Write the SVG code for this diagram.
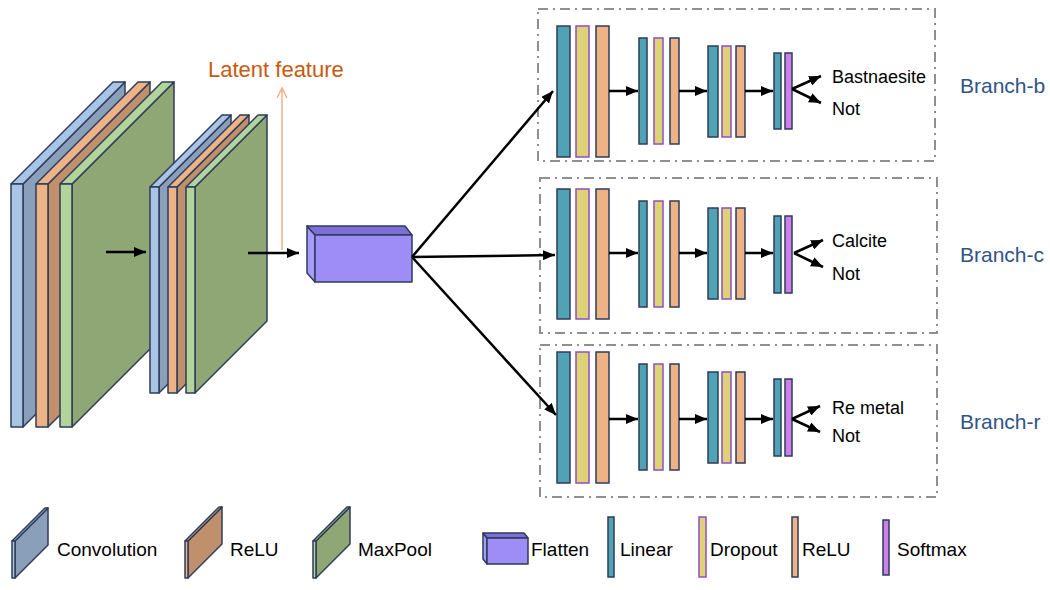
<svg xmlns="http://www.w3.org/2000/svg" width="1050" height="590" viewBox="0 0 1050 590">
<defs>
<marker id="ah" markerUnits="userSpaceOnUse" markerWidth="12" markerHeight="10" refX="12" refY="5" orient="auto" viewBox="0 0 12 10"><path d="M0,0 L12,5 L0,10 z" fill="#000"/></marker>
</defs>
<style>
.s{stroke:#2E3D5A;stroke-width:1.5;stroke-linejoin:round}
.cf{fill:#A9C4E4}.cs{fill:#8A9FBA}
.rf{fill:#EDB386}.rs{fill:#C08F6C}
.mf{fill:#B2D39A}.ms{fill:#8EA774}
.ff{fill:#9F8DF7}.ft{fill:#7E6FD8}.fs{fill:#A99BF9}
.lin{fill:#52A2B5;stroke:#2E3D5A;stroke-width:1.5}
.drp{fill:#DDD276;stroke:#8E4FC4;stroke-width:1.5}
.rel{fill:#EDB386;stroke:#2E3D5A;stroke-width:1.5}
.sfm{fill:#CD7FEA;stroke:#2E3D5A;stroke-width:1.5}
.box{fill:none;stroke:#8F8F8F;stroke-width:2;stroke-dasharray:10 5 2 5}
.ar{stroke:#000;stroke-width:2.5;fill:none;marker-end:url(#ah)}
.t{font-family:"Liberation Sans",Arial,sans-serif;font-size:18px;fill:#000}
.lg{font-family:"Liberation Sans",Arial,sans-serif;font-size:19px;fill:#000}
.bt{font-family:"Liberation Sans",Arial,sans-serif;font-size:21px;fill:#2F5486}
</style>

<g id="block1">
<polygon class="s cs" points="23,184 125,82 125,325 23,427"/>
<polygon class="s cf" points="11,184 113,82 125,82 23,184"/>
<rect class="s cf" x="11" y="184" width="12" height="243"/>
<polygon class="s rs" points="48,184 150,82 150,325 48,427"/>
<polygon class="s rf" points="36,184 138,82 150,82 48,184"/>
<rect class="s rf" x="36" y="184" width="12" height="243"/>
<polygon class="s ms" points="72,184 174,82 174,325 72,427"/>
<polygon class="s mf" points="60,184 162,82 174,82 72,184"/>
<rect class="s mf" x="60" y="184" width="12" height="243"/>
</g>

<g id="block2">
<polygon class="s cs" points="159,187 231,115 231,321 159,393"/>
<polygon class="s cf" points="150,187 222,115 231,115 159,187"/>
<rect class="s cf" x="150" y="187" width="9" height="206"/>
<polygon class="s rs" points="177,187 249,115 249,321 177,393"/>
<polygon class="s rf" points="168,187 240,115 249,115 177,187"/>
<rect class="s rf" x="168" y="187" width="9" height="206"/>
<polygon class="s ms" points="195,187 267,115 267,321 195,393"/>
<polygon class="s mf" points="186,187 258,115 267,115 195,187"/>
<rect class="s mf" x="186" y="187" width="9" height="206"/>
</g>

<g id="latent">
<line x1="282" y1="250" x2="282" y2="89" stroke="#F4B183" stroke-width="1.5"/>
<polyline points="277,98 282,88 287,98" fill="none" stroke="#F4B183" stroke-width="1.5"/>
<text x="208" y="77" font-family="Liberation Sans, Arial, sans-serif" font-size="22" fill="#C55A11">Latent feature</text>
</g>

<g id="flatten">
<polygon class="s fs" points="307,226 315,235 315,282 307,273"/>
<polygon class="s ft" points="307,226 405,226 412,235 315,235"/>
<rect class="s ff" x="315" y="235" width="97" height="47"/>
</g>

<g id="branch-b">
<rect class="box" x="538" y="9" width="397" height="152"/>
<rect class="lin" x="557" y="26" width="13" height="131"/>
<rect class="drp" x="576" y="26" width="13" height="131"/>
<rect class="rel" x="596" y="26" width="13" height="131"/>
<rect class="lin" x="639" y="38" width="8" height="106"/>
<rect class="drp" x="654" y="38" width="9" height="106"/>
<rect class="rel" x="670" y="38" width="9" height="106"/>
<rect class="lin" x="708" y="46" width="10" height="91"/>
<rect class="drp" x="722" y="46" width="9" height="91"/>
<rect class="rel" x="736" y="46" width="9" height="91"/>
<rect class="lin" x="774" y="53" width="7" height="76"/>
<rect class="sfm" x="785" y="53" width="7" height="76"/>
<text class="t" x="832" y="83">Bastnaesite</text>
<text class="t" x="832" y="115">Not</text>
<text class="bt" x="960" y="93">Branch-b</text>
</g>

<g id="branch-c">
<rect class="box" x="540" y="178" width="397" height="155"/>
<rect class="lin" x="557" y="189" width="13" height="130"/>
<rect class="drp" x="576" y="189" width="13" height="130"/>
<rect class="rel" x="596" y="189" width="13" height="130"/>
<rect class="lin" x="639" y="201" width="8" height="106"/>
<rect class="drp" x="654" y="201" width="9" height="106"/>
<rect class="rel" x="670" y="201" width="9" height="106"/>
<rect class="lin" x="708" y="208" width="10" height="91"/>
<rect class="drp" x="722" y="208" width="9" height="91"/>
<rect class="rel" x="736" y="208" width="9" height="91"/>
<rect class="lin" x="774" y="216" width="7" height="77"/>
<rect class="sfm" x="785" y="216" width="7" height="77"/>
<text class="t" x="832" y="247">Calcite</text>
<text class="t" x="832" y="280">Not</text>
<text class="bt" x="960" y="262">Branch-c</text>
</g>

<g id="branch-r">
<rect class="box" x="540" y="345" width="397" height="152"/>
<rect class="lin" x="557" y="352" width="13" height="131"/>
<rect class="drp" x="576" y="352" width="13" height="131"/>
<rect class="rel" x="596" y="352" width="13" height="131"/>
<rect class="lin" x="639" y="364" width="8" height="106"/>
<rect class="drp" x="654" y="364" width="9" height="106"/>
<rect class="rel" x="670" y="364" width="9" height="106"/>
<rect class="lin" x="708" y="372" width="10" height="91"/>
<rect class="drp" x="722" y="372" width="9" height="91"/>
<rect class="rel" x="736" y="372" width="9" height="91"/>
<rect class="lin" x="774" y="379" width="7" height="77"/>
<rect class="sfm" x="785" y="379" width="7" height="77"/>
<text class="t" x="832" y="414">Re metal</text>
<text class="t" x="832" y="442">Not</text>
<text class="bt" x="960" y="429">Branch-r</text>
</g>

<g id="connectors">
<line class="ar" x1="106" y1="252" x2="146" y2="252"/>
<line class="ar" x1="248" y1="253" x2="299" y2="253"/>
<line class="ar" x1="412" y1="257" x2="553" y2="91"/>
<line class="ar" x1="412" y1="257" x2="555" y2="255"/>
<line class="ar" x1="412" y1="257" x2="556" y2="415"/>
<line class="ar" x1="609" y1="91" x2="638" y2="91"/>
<line class="ar" x1="679" y1="91" x2="707" y2="91"/>
<line class="ar" x1="745" y1="91" x2="773" y2="91"/>
<line class="ar" x1="792" y1="89" x2="821" y2="76"/>
<line class="ar" x1="792" y1="89" x2="821" y2="103"/>
<line class="ar" x1="609" y1="253" x2="638" y2="253"/>
<line class="ar" x1="679" y1="253" x2="707" y2="253"/>
<line class="ar" x1="745" y1="253" x2="773" y2="253"/>
<line class="ar" x1="794" y1="253" x2="823" y2="240"/>
<line class="ar" x1="794" y1="253" x2="823" y2="267"/>
<line class="ar" x1="609" y1="419" x2="638" y2="419"/>
<line class="ar" x1="679" y1="419" x2="707" y2="419"/>
<line class="ar" x1="745" y1="419" x2="773" y2="419"/>
<line class="ar" x1="792" y1="419" x2="820" y2="406"/>
<line class="ar" x1="792" y1="419" x2="820" y2="432"/>
</g>

<g id="legend">
<polygon class="s cs" points="15,541 48,508 48,545 15,578"/>
<polygon class="s cf" points="12,541 45,508 48,508 15,541"/>
<rect class="s cf" x="12" y="541" width="3" height="37"/>
<text class="lg" x="57" y="556">Convolution</text>
<polygon class="s rs" points="188,541 222,507 222,544 188,578"/>
<polygon class="s rf" points="185,541 219,507 222,507 188,541"/>
<rect class="s rf" x="185" y="541" width="3" height="37"/>
<text class="lg" x="230" y="556">ReLU</text>
<polygon class="s ms" points="316,541 350,507 350,544 316,578"/>
<polygon class="s mf" points="313,541 347,507 350,507 316,541"/>
<rect class="s mf" x="313" y="541" width="3" height="37"/>
<text class="lg" x="358" y="556">MaxPool</text>
<polygon class="s fs" points="483,533 487,538 487,564 483,559"/>
<polygon class="s ft" points="483,533 524,533 528,538 487,538"/>
<rect class="s ff" x="487" y="538" width="41" height="26"/>
<text class="lg" x="531" y="556">Flatten</text>
<rect class="lin" x="608" y="517" width="6" height="60"/>
<text class="lg" x="620" y="556">Linear</text>
<rect class="drp" x="699" y="517" width="7" height="60"/>
<text class="lg" x="710" y="556">Dropout</text>
<rect class="rel" x="792" y="517" width="6" height="60"/>
<text class="lg" x="802" y="556">ReLU</text>
<rect class="sfm" x="883" y="520" width="6" height="55"/>
<text class="lg" x="897" y="556">Softmax</text>
</g>
</svg>
